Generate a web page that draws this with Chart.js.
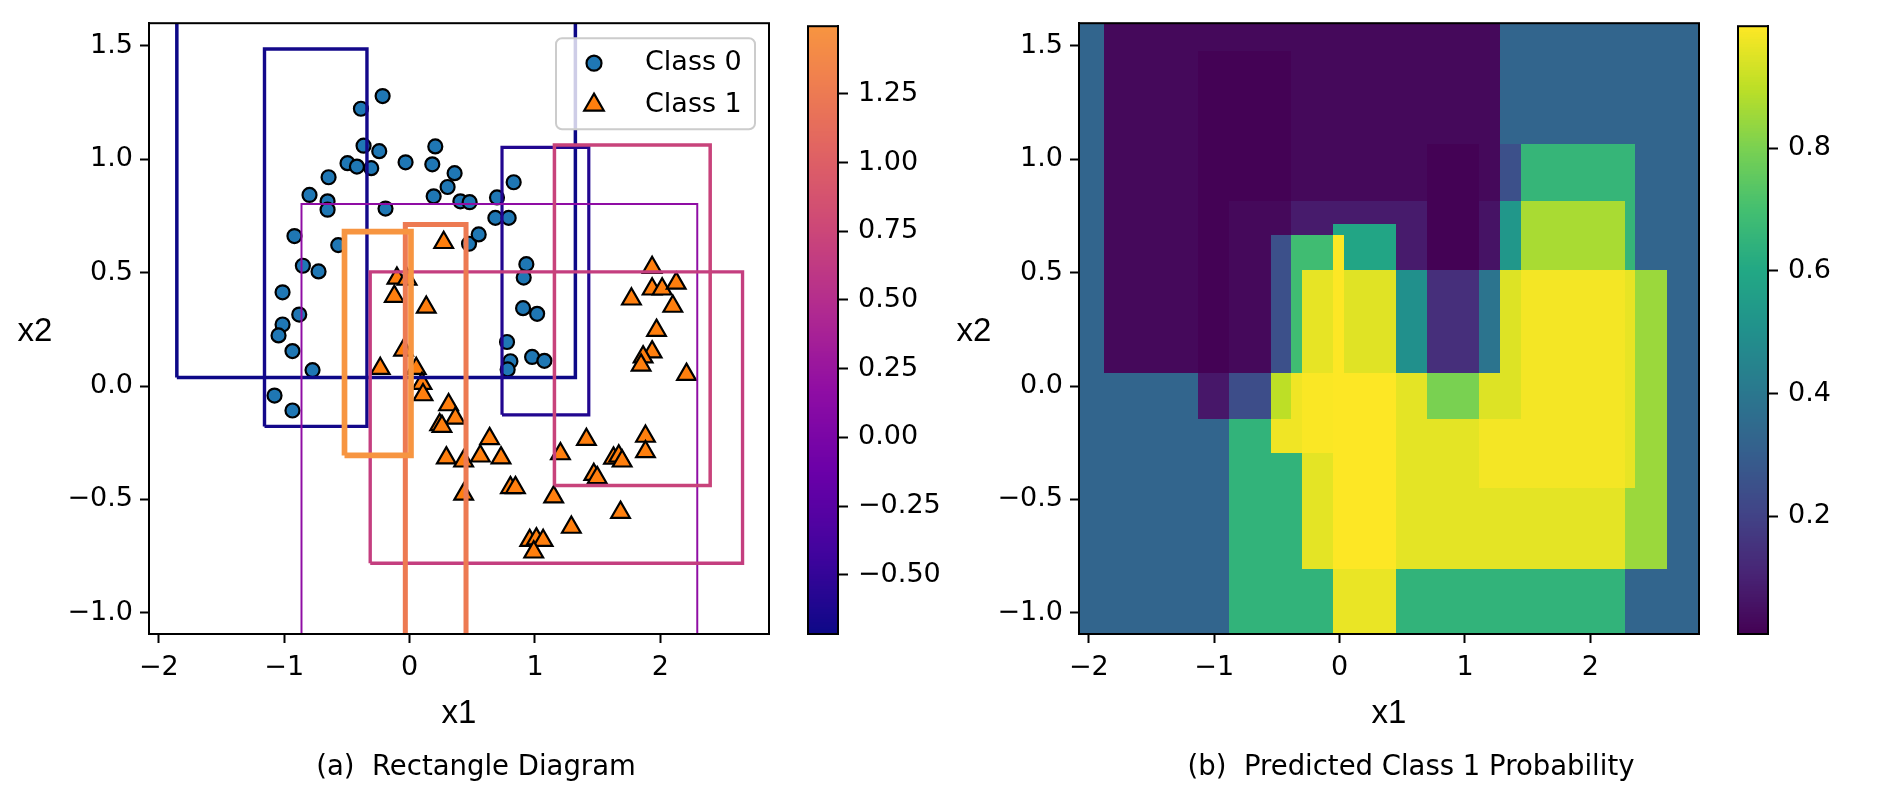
<!DOCTYPE html>
<html>
<head>
<meta charset="utf-8">
<script src="https://cdn.jsdelivr.net/npm/chart.js@4.4.1/dist/chart.umd.min.js"></script>
<style>
body { margin: 0; background: #fff; width: 1902px; height: 812px; position: relative; overflow: hidden; }
canvas { position: absolute; top: 0; }
.cap { position: absolute; top: 752px; font-family: 'DejaVu Sans'; font-size: 27.5px; line-height: 27.5px; white-space: pre; transform: translateX(-50%); color: #000; }
</style>
</head>
<body>
<canvas id="rectChart" width="800" height="812" style="left:0px"></canvas>
<canvas id="rectBar" width="170" height="812" style="left:790px"></canvas>
<canvas id="probChart" width="780" height="812" style="left:940px"></canvas>
<canvas id="probBar" width="182" height="812" style="left:1720px"></canvas>
<div class="cap" style="left:476px">(a)  Rectangle Diagram</div>
<div class="cap" style="left:1411px">(b)  Predicted Class 1 Probability</div>
<script>
// moons data, class 0 (circles)
var class0X = [-0.215, -0.388, -0.367, -0.242, 0.205, -0.495, -0.42, -0.306, -0.032, 0.181, 0.359, -0.646, 0.303, -0.798, 0.192, -0.654, -0.654, -0.192, 0.405, 0.479, -0.918, -0.569, -0.851, -0.726, -1.013, -0.88, -1.013, -1.045, -0.934, -0.774, -1.077, -0.934, 0.474, 0.551, 0.697, 0.83, 0.684, 0.79, 0.931, 0.91, 0.905, 1.017, 0.777, 0.804, 0.782, 0.977, 1.075];
var class0Y = [1.278, 1.222, 1.059, 1.035, 1.056, 0.982, 0.967, 0.96, 0.986, 0.977, 0.938, 0.92, 0.877, 0.842, 0.836, 0.814, 0.777, 0.782, 0.814, 0.81, 0.661, 0.621, 0.53, 0.505, 0.413, 0.315, 0.271, 0.223, 0.154, 0.07, -0.042, -0.108, 0.627, 0.668, 0.831, 0.898, 0.741, 0.741, 0.537, 0.478, 0.343, 0.318, 0.194, 0.109, 0.073, 0.128, 0.111];

// class 1 (triangles)
var class1X = [0.272, -0.101, -0.02, -0.122, 0.133, -0.048, -0.234, 0.053, 0.099, 0.107, 0.311, 0.365, 0.24, 0.258, 0.293, 0.431, 0.431, 0.638, 0.564, 0.729, 0.804, 0.844, 1.149, 1.29, 0.958, 1.011, 1.065, 0.99, 1.203, 1.41, 1.469, 1.496, 1.626, 1.668, 1.695, 1.682, 1.881, 1.881, 1.969, 1.934, 1.862, 1.846, 2.208, 1.934, 1.769, 1.934, 2.014, 2.126, 2.099];
var class1Y = [0.632, 0.475, 0.47, 0.395, 0.347, 0.158, 0.077, 0.077, 0.011, -0.039, -0.083, -0.142, -0.171, -0.178, -0.317, -0.331, -0.477, -0.232, -0.309, -0.317, -0.448, -0.448, -0.489, -0.623, -0.681, -0.674, -0.681, -0.732, -0.299, -0.236, -0.39, -0.404, -0.318, -0.309, -0.331, -0.557, -0.222, -0.29, 0.245, 0.15, 0.128, 0.092, 0.051, 0.522, 0.383, 0.427, 0.427, 0.453, 0.351];

// rectangles and their coefficients
var rectX0 = [-0.519, -0.034, 1.155, -0.314, -0.862, 0.737, -1.157, -1.856];
var rectX1 = [0.011, 0.45, 2.397, 2.655, 2.294, 1.429, -0.34, 1.322];
var rectY0 = [-0.306, -1.25, -0.439, -0.781, -1.25, -0.127, -0.178, 0.038];
var rectY1 = [0.68, 0.712, 1.062, 0.503, 0.802, 1.052, 1.485, 1.8];
var rectCoef = [1.496, 1.26, 0.72, 0.67, 0.17, -0.6, -0.68, -0.715];

// predicted probability grid (rows from top)
var gridX = [-2.078, -1.871, -1.128, -0.876, -0.541, -0.382, -0.295, -0.048, 0.04, 0.452, 0.698, 1.115, 1.282, 1.449, 2.277, 2.362, 2.611, 2.866];
var gridY = [1.6, 1.473, 1.065, 0.811, 0.71, 0.662, 0.51, 0.055, -0.147, -0.299, -0.452, -0.807, -1.093];
var probRows = [
  [0.33, 0.03, 0.03, 0.03, 0.03, 0.03, 0.03, 0.03, 0.03, 0.03, 0.03, 0.03, 0.33, 0.33, 0.33, 0.33, 0.33],
  [0.33, 0.03, 0.01, 0.01, 0.01, 0.03, 0.03, 0.03, 0.03, 0.03, 0.03, 0.03, 0.33, 0.33, 0.33, 0.33, 0.33],
  [0.33, 0.03, 0.01, 0.01, 0.01, 0.03, 0.03, 0.03, 0.03, 0.03, 0.01, 0.03, 0.25, 0.66, 0.66, 0.33, 0.33],
  [0.33, 0.03, 0.01, 0.03, 0.03, 0.08, 0.08, 0.08, 0.08, 0.08, 0.01, 0.06, 0.53, 0.87, 0.66, 0.33, 0.33],
  [0.33, 0.03, 0.01, 0.03, 0.03, 0.08, 0.08, 0.59, 0.59, 0.08, 0.01, 0.06, 0.53, 0.87, 0.66, 0.33, 0.33],
  [0.33, 0.03, 0.01, 0.03, 0.25, 0.69, 0.69, 0.999, 0.59, 0.08, 0.01, 0.06, 0.53, 0.87, 0.66, 0.33, 0.33],
  [0.33, 0.03, 0.01, 0.03, 0.25, 0.69, 0.965, 0.999, 0.955, 0.5, 0.14, 0.39, 0.95, 0.985, 0.965, 0.85, 0.33],
  [0.33, 0.33, 0.07, 0.24, 0.9, 0.98, 0.995, 0.999, 0.999, 0.96, 0.8, 0.95, 0.95, 0.985, 0.965, 0.85, 0.33],
  [0.33, 0.33, 0.33, 0.65, 0.98, 0.98, 0.995, 0.999, 0.999, 0.96, 0.96, 0.985, 0.985, 0.985, 0.965, 0.85, 0.33],
  [0.33, 0.33, 0.33, 0.65, 0.65, 0.65, 0.96, 0.999, 0.999, 0.96, 0.96, 0.985, 0.985, 0.985, 0.965, 0.85, 0.33],
  [0.33, 0.33, 0.33, 0.65, 0.65, 0.65, 0.96, 0.999, 0.999, 0.96, 0.96, 0.96, 0.96, 0.96, 0.85, 0.85, 0.33],
  [0.33, 0.33, 0.33, 0.65, 0.65, 0.65, 0.65, 0.97, 0.97, 0.65, 0.65, 0.65, 0.65, 0.65, 0.33, 0.33, 0.33]
];

var xTicks = [-2, -1, 0, 1, 2];
var yTicks = [-1, -0.5, 0, 0.5, 1, 1.5];
var coefTicks = [-0.5, -0.25, 0, 0.25, 0.5, 0.75, 1, 1.25];
var probTicks = [0.2, 0.4, 0.6, 0.8];

var coefMin = -0.715, coefMax = 1.496;
var probMin = 0.0076, probMax = 0.9995;

var plasma = ['#0d0887', '#41049d', '#6a00a8', '#8f0da4', '#b12a90', '#cc4778', '#e16462', '#f2844b', '#fca636', '#fcce25', '#f0f921'];
var viridis = ['#440154', '#482475', '#414487', '#355f8d', '#2a788e', '#21918c', '#22a884', '#44bf70', '#7ad151', '#bddf26', '#fde725'];

function hexRgb(h) {
  return [parseInt(h.slice(1, 3), 16), parseInt(h.slice(3, 5), 16), parseInt(h.slice(5, 7), 16)];
}
function cmap(stops, t) {
  t = Math.max(0, Math.min(1, t));
  var p = t * (stops.length - 1);
  var i = Math.min(Math.floor(p), stops.length - 2);
  var f = p - i;
  var a = hexRgb(stops[i]), b = hexRgb(stops[i + 1]);
  return 'rgb(' + [0, 1, 2].map(function (k) { return Math.round(a[k] + (b[k] - a[k]) * f); }).join(',') + ')';
}
function coefColor(c) { return cmap(plasma, (c - coefMin) / (coefMax - coefMin) * 0.75); }
function probColor(p) { return cmap(viridis, (p - probMin) / (probMax - probMin)); }

function fmt(d) {
  return function (v) { return (v < -1e-9 ? '\u2212' : '') + Math.abs(v).toFixed(d); };
}

Chart.defaults.font.family = 'DejaVu Sans';
Chart.defaults.font.size = 27;
Chart.defaults.color = '#000';

var tickGrid = { drawOnChartArea: false, tickLength: 9, tickWidth: 2, color: '#000' };
var axisBorder = { display: true, color: '#000', width: 2 };

function xAxis() {
  return {
    type: 'linear', min: -2.078, max: 2.866,
    afterBuildTicks: function (s) { s.ticks = xTicks.map(function (v) { return { value: v }; }); },
    afterFit: function (s) { s.height = 178; },
    grid: tickGrid, border: axisBorder,
    ticks: { padding: 9, autoSkip: false, maxRotation: 0, callback: fmt(0) },
    title: { display: true, text: 'x1', color: '#000', font: { family: 'Liberation Sans', size: 33 }, padding: { top: 0, bottom: 78 } }
  };
}
function yAxis(w) {
  return {
    type: 'linear', min: -1.093, max: 1.599,
    afterBuildTicks: function (s) { s.ticks = yTicks.map(function (v) { return { value: v }; }); },
    afterFit: function (s) { s.width = w; },
    grid: tickGrid, border: axisBorder,
    ticks: { padding: 7, autoSkip: false, callback: fmt(1) }
  };
}

// horizontal y label, full frame
function sideLabel(text, offset) {
  return {
    id: 'sideLabel',
    afterDraw: function (chart) {
      var a = chart.chartArea, ctx = chart.ctx;
      ctx.save();
      ctx.font = '33px "Liberation Sans"';
      ctx.fillStyle = '#000';
      ctx.textAlign = 'center';
      ctx.textBaseline = 'middle';
      ctx.fillText(text, a.left - offset, (a.top + a.bottom) / 2 + 3);
      ctx.restore();
    }
  };
}
var frame = {
  id: 'frame',
  afterDatasetsDraw: function (chart) {
    var a = chart.chartArea, ctx = chart.ctx;
    ctx.save();
    ctx.strokeStyle = '#000';
    ctx.lineWidth = 2;
    ctx.strokeRect(a.left, a.top, a.right - a.left, a.bottom - a.top);
    ctx.restore();
  }
};

function marker(ctx, style, r, x, y) {
  ctx.beginPath();
  if (style === 'triangle') {
    var rad = 0;
    ctx.moveTo(x + Math.sin(rad) * r, y - Math.cos(rad) * r);
    rad += 2 * Math.PI / 3;
    ctx.lineTo(x + Math.sin(rad) * r, y - Math.cos(rad) * r);
    rad += 2 * Math.PI / 3;
    ctx.lineTo(x + Math.sin(rad) * r, y - Math.cos(rad) * r);
    ctx.closePath();
  } else {
    ctx.arc(x, y, r, 0, 2 * Math.PI);
  }
  ctx.fill();
  ctx.stroke();
}

var legendBox = {
  id: 'legendBox',
  afterDatasetsDraw: function (chart) {
    var a = chart.chartArea, ctx = chart.ctx;
    var x0 = a.right - 213, y0 = a.top + 15, w = 199, h = 91;
    ctx.save();
    ctx.beginPath();
    ctx.roundRect(x0, y0, w, h, 6);
    ctx.fillStyle = 'rgba(255,255,255,0.8)';
    ctx.fill();
    ctx.strokeStyle = '#cccccc';
    ctx.lineWidth = 2;
    ctx.stroke();
    chart.data.datasets.filter(function (d) { return d.isClass; }).forEach(function (d, i) {
      var my = y0 + 25 + i * 41.7;
      ctx.fillStyle = d.pointBackgroundColor;
      ctx.strokeStyle = '#000';
      ctx.lineWidth = d.pointBorderWidth;
      marker(ctx, d.pointStyle, d.pointRadius + 0.5, x0 + 38, my);
      ctx.fillStyle = '#000';
      ctx.font = '27px "DejaVu Sans"';
      ctx.textAlign = 'left';
      ctx.textBaseline = 'middle';
      ctx.fillText(d.label, x0 + 89, my);
    });
    ctx.restore();
  }
};

var heatLayer = {
  id: 'heatLayer',
  beforeDatasetsDraw: function (chart) {
    var ctx = chart.ctx, xs = chart.scales.x, ys = chart.scales.y, a = chart.chartArea;
    ctx.save();
    ctx.beginPath();
    ctx.rect(a.left, a.top, a.right - a.left, a.bottom - a.top);
    ctx.clip();
    probRows.forEach(function (row, i) {
      row.forEach(function (p, j) {
        var l = Math.floor(xs.getPixelForValue(gridX[j])), r = Math.ceil(xs.getPixelForValue(gridX[j + 1]));
        var t = Math.floor(ys.getPixelForValue(gridY[i])), b = Math.ceil(ys.getPixelForValue(gridY[i + 1]));
        ctx.fillStyle = probColor(p);
        ctx.fillRect(l, t, r - l, b - t);
      });
    });
    ctx.restore();
  }
};

function barLayer(colorOf) {
  return {
    id: 'barLayer',
    beforeDatasetsDraw: function (chart) {
      var ys = chart.scales.y, a = chart.chartArea, ctx = chart.ctx, n = 240;
      ctx.save();
      for (var k = 0; k < n; k++) {
        var v0 = ys.min + (ys.max - ys.min) * k / n, v1 = ys.min + (ys.max - ys.min) * (k + 1) / n;
        var yb = Math.ceil(ys.getPixelForValue(v0)), yt = Math.floor(ys.getPixelForValue(v1));
        ctx.fillStyle = colorOf((v0 + v1) / 2);
        ctx.fillRect(a.left, yt, a.right - a.left, yb - yt);
      }
      ctx.strokeStyle = '#000';
      ctx.lineWidth = 2;
      ctx.strokeRect(a.left, a.top, a.right - a.left, a.bottom - a.top);
      ctx.restore();
    }
  };
}

function barAxis(min, max, ticks, digits, w) {
  return {
    x: { display: false, min: 0, max: 1 },
    y: {
      type: 'linear', position: 'right', min: min, max: max,
      afterBuildTicks: function (s) { s.ticks = ticks.map(function (v) { return { value: v }; }); },
      afterFit: function (s) { s.width = w; },
      grid: { drawOnChartArea: false, tickLength: 10, tickWidth: 2, color: '#000' },
      border: axisBorder,
      ticks: { padding: 10, autoSkip: false, callback: fmt(digits) }
    }
  };
}

var baseOpts = {
  responsive: false, animation: false, events: [],
  plugins: { legend: { display: false }, tooltip: { enabled: false } }
};

// panel (a): rectangles over the points
var rectSets = rectX0.map(function (x0, i) {
  return {
    label: 'rect' + i,
    data: [
      { x: x0, y: rectY0[i] }, { x: rectX1[i], y: rectY0[i] }, { x: rectX1[i], y: rectY1[i] },
      { x: x0, y: rectY1[i] }, { x: x0, y: rectY0[i] }
    ],
    showLine: true, pointRadius: 0, fill: false, clip: 0,
    borderColor: coefColor(rectCoef[i]),
    borderWidth: 1.5 + 2.8 * Math.abs(rectCoef[i]),
    borderJoinStyle: 'miter'
  };
});

new Chart(document.getElementById('rectChart'), {
  type: 'scatter',
  data: {
    datasets: rectSets.concat([
      {
        label: 'Class 0', isClass: true,
        data: class0X.map(function (x, i) { return { x: x, y: class0Y[i] }; }),
        pointStyle: 'circle', pointRadius: 7, pointBorderWidth: 2.2,
        pointBackgroundColor: '#1f77b4', pointBorderColor: '#000'
      },
      {
        label: 'Class 1', isClass: true,
        data: class1X.map(function (x, i) { return { x: x, y: class1Y[i] }; }),
        pointStyle: 'triangle', pointRadius: 10.8, pointBorderWidth: 2.2,
        pointBackgroundColor: '#ff7f0e', pointBorderColor: '#000'
      }
    ])
  },
  options: Object.assign({}, baseOpts, {
    layout: { padding: { left: 0, top: 19, right: 31, bottom: 0 } },
    scales: { x: xAxis(), y: yAxis(149) }
  }),
  plugins: [frame, legendBox, sideLabel('x2', 114)]
});

new Chart(document.getElementById('rectBar'), {
  type: 'scatter',
  data: { datasets: [] },
  options: Object.assign({}, baseOpts, {
    layout: { padding: { left: 18, top: 19, right: 0, bottom: 178 } },
    scales: barAxis(coefMin, coefMax, coefTicks, 2, 122)
  }),
  plugins: [barLayer(coefColor)]
});

// panel (b): predicted probability
new Chart(document.getElementById('probChart'), {
  type: 'scatter',
  data: { datasets: [] },
  options: Object.assign({}, baseOpts, {
    layout: { padding: { left: 0, top: 19, right: 21, bottom: 0 } },
    scales: { x: xAxis(), y: yAxis(139) }
  }),
  plugins: [heatLayer, frame, sideLabel('x2', 105)]
});

new Chart(document.getElementById('probBar'), {
  type: 'scatter',
  data: { datasets: [] },
  options: Object.assign({}, baseOpts, {
    layout: { padding: { left: 18, top: 19, right: 0, bottom: 178 } },
    scales: barAxis(probMin, probMax, probTicks, 1, 134)
  }),
  plugins: [barLayer(probColor)]
});
</script>
</body>
</html>
